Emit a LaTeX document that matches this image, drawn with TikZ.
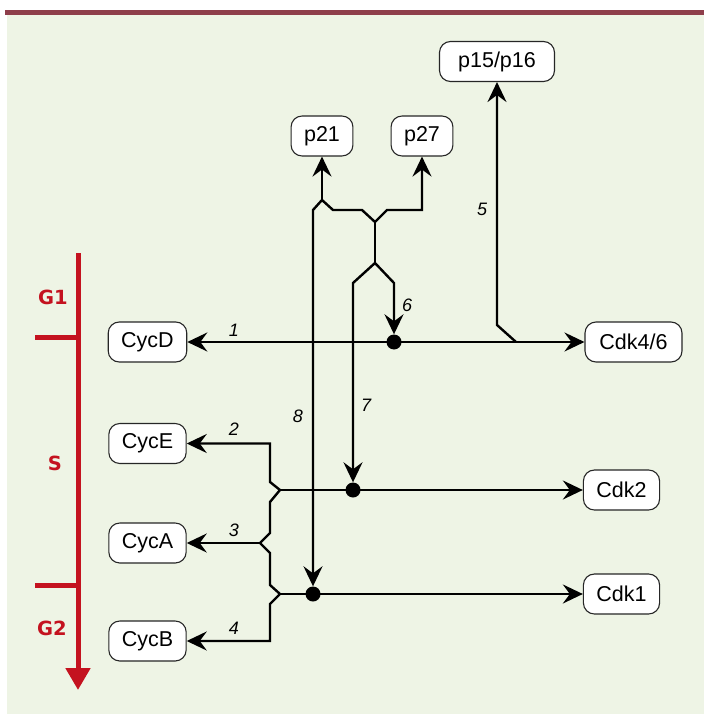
\documentclass[tikz,border=0pt]{standalone}
\usepackage{fontspec}
\setmainfont{Liberation Sans}
\newfontfamily\phasefont{DejaVu Sans}
\usetikzlibrary{arrows.meta}

\definecolor{bgcol}{RGB}{238,244,229}
\definecolor{barcol}{RGB}{142,62,74}
\definecolor{phasered}{RGB}{196,18,31}

\tikzset{
    box/.style={draw=black!85, fill=white, rounded corners=11pt, line width=1.1pt,
        minimum height=40pt, inner xsep=13pt, font=\fontsize{21.5}{25}\selectfont},
    link/.style={line width=2.4pt, line join=miter},
    dot/.style={circle, fill=black, inner sep=0pt, minimum size=15pt},
    num/.style={font=\fontsize{18}{20}\selectfont\itshape},
    phase/.style={text=phasered, font=\fontsize{19.5}{22}\selectfont\phasefont\bfseries},
    >={Stealth[length=20pt, width=19pt, inset=7pt]}
}

\begin{document}
\begin{tikzpicture}[x=1pt, y=-1pt]

    % Frame: page, background panel and top bar
    \useasboundingbox (0,0) rectangle (704,714);
    \fill[bgcol] (7,15) rectangle (704,714);
    \fill[barcol] (5,10) rectangle (704,15.5);

    % Cell cycle axis with phase ticks
    \draw[phasered, line width=5pt, -{Triangle[length=22pt, width=24pt]}] (78,253) -- (78,690);
    \draw[phasered, line width=5pt] (35,337) -- (78,337);
    \draw[phasered, line width=5pt] (35,585) -- (78,585);
    \node[phase] (g1) at (53,297) {G1};
    \node[phase] (s) at (55,463) {S};
    \node[phase] (g2) at (52,628) {G2};

    % Cyclins on the left, kinases on the right, inhibitors on top
    \node[box] (cycD) at (147.5,342) {CycD};
    \node[box] (cycE) at (147.5,443.5) {CycE};
    \node[box] (cycA) at (147.5,543) {CycA};
    \node[box] (cycB) at (147.5,641) {CycB};
    \node[box, minimum width=97pt] (cdkD) at (633.5,342) {Cdk4/6};
    \node[box] (cdkE) at (621.5,490) {Cdk2};
    \node[box] (cdkB) at (621.5,594) {Cdk1};
    \node[box, minimum width=115pt] (p15) at (497,61.5) {p15/p16};
    \node[box] (p21) at (322,136) {p21};
    \node[box] (p27) at (422,136) {p27};

    % Branch points
    \coordinate (j5) at (516,342);
    \coordinate (jE) at (280,490);
    \coordinate (jA) at (260,543);
    \coordinate (jB) at (280,594);
    \coordinate (t21) at (322,200);
    \coordinate (tm) at (375,222);
    \coordinate (ts) at (375,263);

    % 1 and 5: CycD -- Cdk4/6, bound by p15/p16
    \draw[link, <->] (cycD) -- (cdkD);
    \draw[link, ->] (j5) -- (497,325) -- (p15);

    % 2, 3, 4: the other cyclins with Cdk2 and Cdk1
    \draw[link, ->] (jE) -- (cdkE);
    \draw[link, ->] (jB) -- (cdkB);
    \draw[link, ->] (jE) -- (270,482) |- (cycE);
    \draw[link] (jE) -- (270,502) -- (270,533) -- (jA) -- (270,553) -- (270,585) -- (jB);
    \draw[link, ->] (jA) -- (cycA);
    \draw[link, ->] (jB) -- (270,604) |- (cycB);

    % Dots where the inhibitors act
    \node[dot] (dotD) at (394,342) {};
    \node[dot] (dotE) at (353,490) {};
    \node[dot] (dotB) at (313,594) {};

    % 6, 7, 8: p21 and p27 on the complexes
    \draw[link, ->] (t21) -- (p21);
    \draw[link, ->] (t21) -- (313,210) -- (dotB);
    \draw[link] (t21) -- (333,210) -- (362,210) -- (tm);
    \draw[link, ->] (tm) -- (387,210) -| (p27);
    \draw[link] (tm) -- (ts);
    \draw[link, ->] (ts) -- (353,283) -- (dotE);
    \draw[link, ->] (ts) -- (394,283) -- (dotD);

    % Step numbers
    \node[num] (n1) at (234,330) {1};
    \node[num] (n2) at (234,429) {2};
    \node[num] (n3) at (234,530) {3};
    \node[num] (n4) at (234,628) {4};
    \node[num] (n5) at (482,209) {5};
    \node[num] (n6) at (407,305) {6};
    \node[num] (n7) at (366,405) {7};
    \node[num] (n8) at (298,416) {8};

\end{tikzpicture}
\end{document}
